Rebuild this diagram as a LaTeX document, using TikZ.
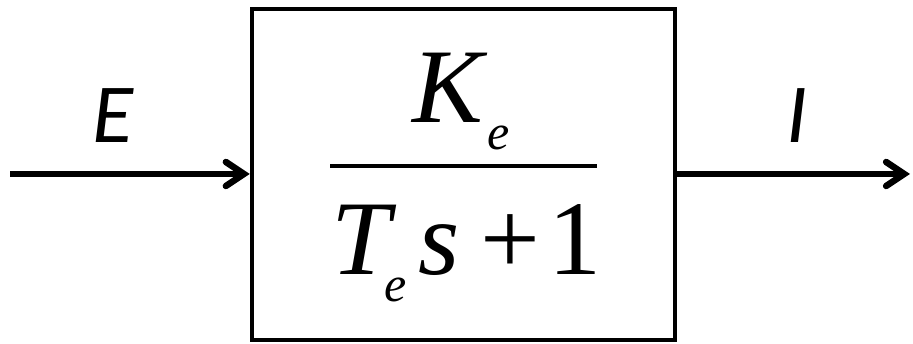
\documentclass[tikz,border=0pt]{standalone}
\usepackage{fontspec}
\setmainfont{Liberation Serif}
\newfontfamily\lblfont{Carlito}
\usetikzlibrary{arrows.meta}
\newcommand{\subE}[1]{\raisebox{-#1}{\fontsize{50}{50}\selectfont e}}
\begin{document}
\begin{tikzpicture}[x=1pt,y=1pt,
  sig/.style={line width=6.5pt,-{Straight Barb[length=18pt,width=24pt,line cap=round]}},
  blk/.style={draw,line width=4.5pt,minimum width=423pt,minimum height=331pt,inner sep=0pt},
  lbl/.style={inner sep=0pt,anchor=base west,font=\lblfont\itshape\fontsize{84}{84}\selectfont},
  mth/.style={inner sep=0pt,anchor=base west,font=\fontsize{106}{106}\selectfont\itshape}]
\useasboundingbox (0,0) rectangle (913,344);
\node[blk] (box) at (463.5,169.5) {};
\coordinate (in) at (10,170);
\coordinate (out) at (910,170);
\draw[sig] (in) -- (in -| box.west);
\draw[sig] (out -| box.east) -- (out);
\node[lbl] (E) at (92,201) {E};
\node[lbl] (I) at (786,201) {I};
\node[mth] (num) at (412,221) {\rlap{K}\hspace{75pt}\subE{27pt}};
\node[mth] (den) at (331,69) {\rlap{T}\hspace{53pt}\rlap{\subE{27pt}}\hspace{34pt}\rlap{s}\hspace{62pt}\rlap{\upshape +}\hspace{68pt}\upshape 1};
\coordinate (barl) at (330,178);
\coordinate (barr) at (597,178);
\draw[line width=4pt] (barl) -- (barr);
\end{tikzpicture}
\end{document}
